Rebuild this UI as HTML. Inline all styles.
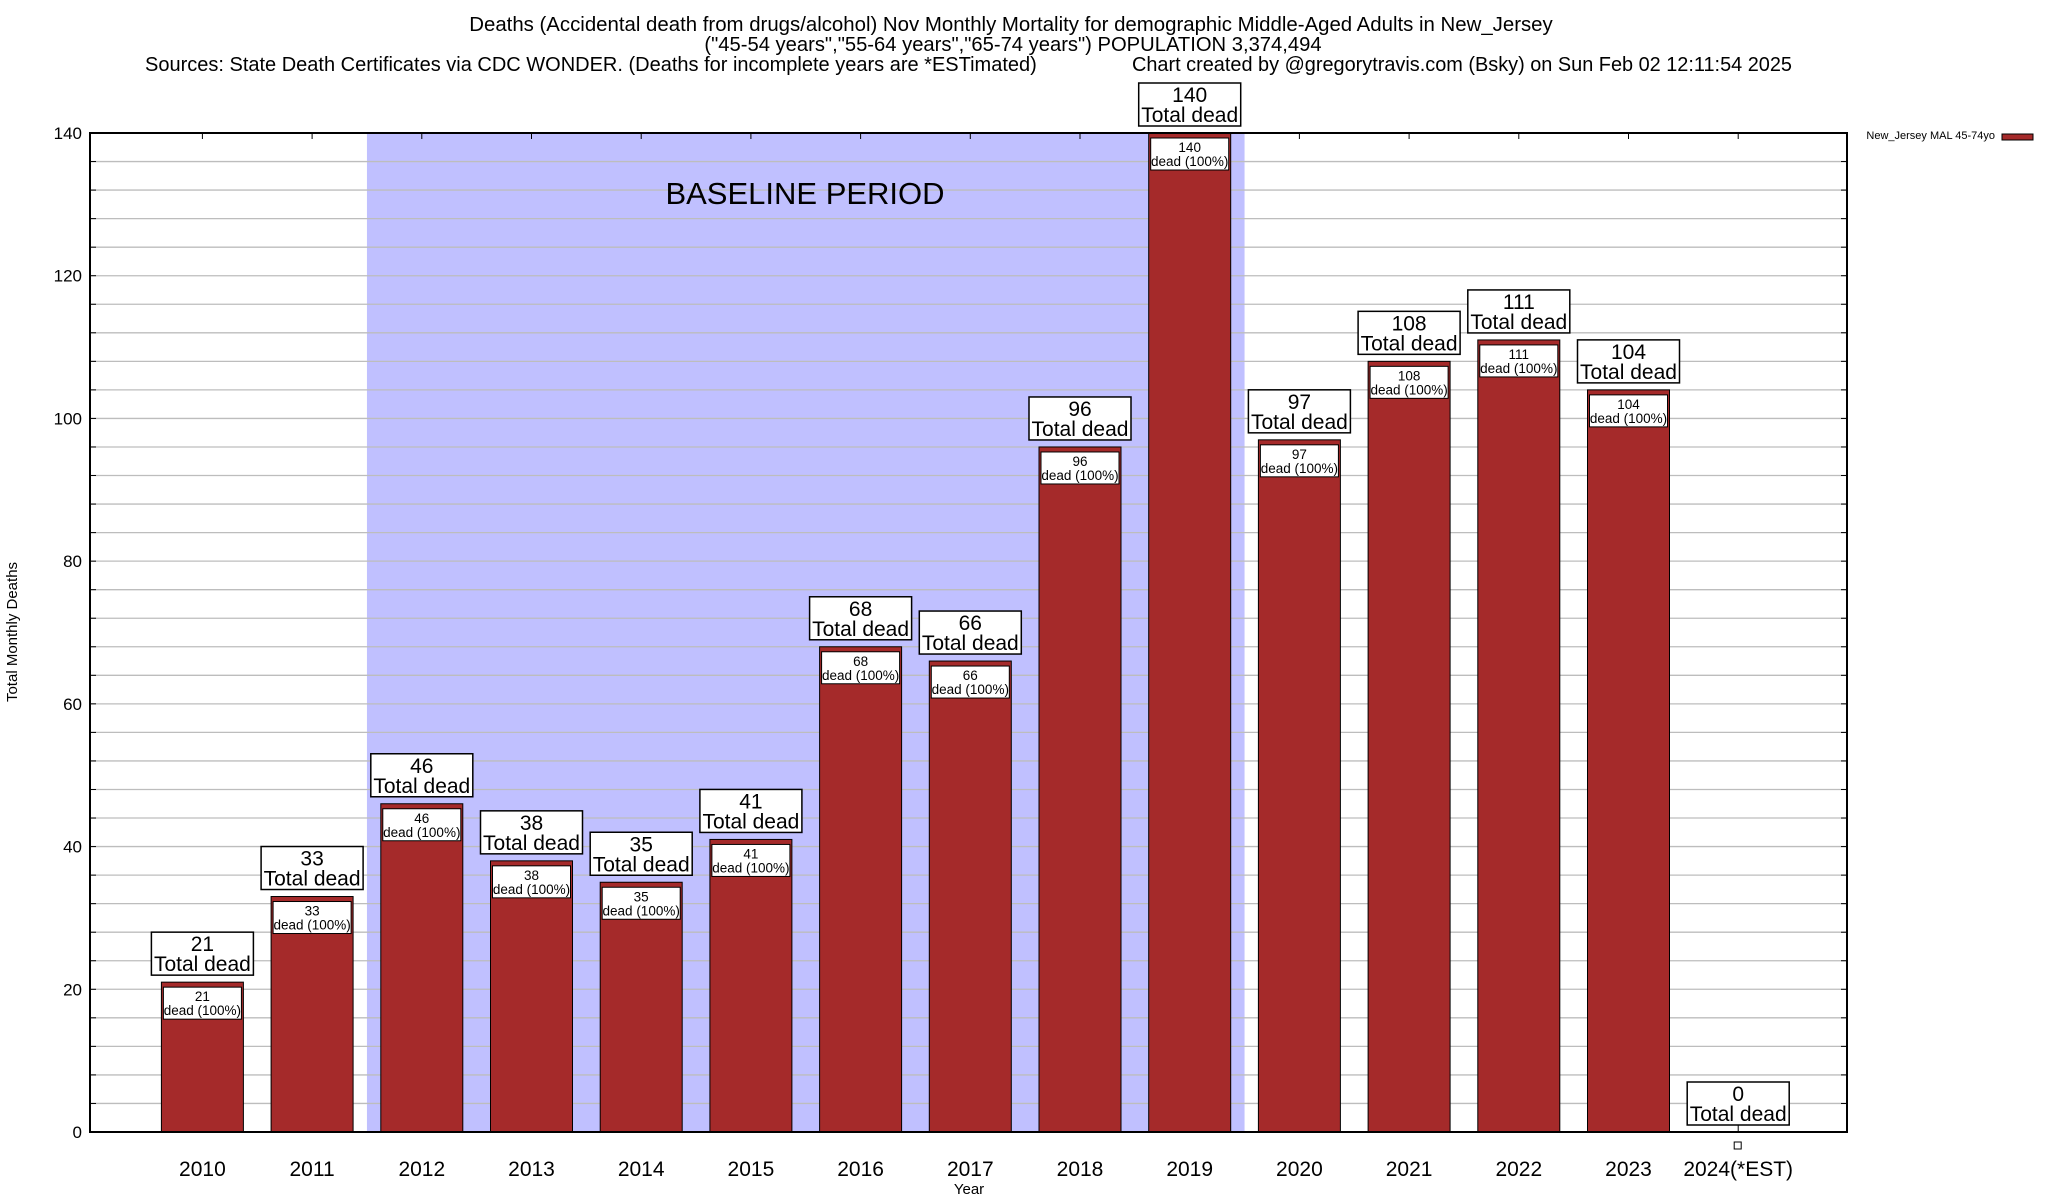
<!DOCTYPE html>
<html><head><meta charset="utf-8"><style>
html,body{margin:0;padding:0;background:#fff;}
svg{display:block;font-family:"Liberation Sans",sans-serif;}
</style></head><body>
<svg id="chart" width="2048" height="1200" viewBox="0 0 2048 1200">
<text x="1011" y="31" font-size="20.4" text-anchor="middle">Deaths (Accidental death from drugs/alcohol) Nov Monthly Mortality for demographic Middle-Aged Adults in New_Jersey</text>
<text x="1013" y="51" font-size="20.2" text-anchor="middle">("45-54 years","55-64 years","65-74 years") POPULATION 3,374,494</text>
<text x="145" y="71" font-size="20">Sources: State Death Certificates via CDC WONDER. (Deaths for incomplete years are *ESTimated)</text>
<text x="1132" y="71" font-size="19.9">Chart created by @gregorytravis.com (Bsky) on Sun Feb 02 12:11:54 2025</text>
<g id="plot"></g>
<text x="17" y="632" font-size="15" text-anchor="middle" transform="rotate(-90 17 632)">Total Monthly Deaths</text>
<text x="969" y="1194" font-size="15" text-anchor="middle">Year</text>
<text x="1995" y="139" font-size="11" text-anchor="end">New_Jersey MAL 45-74yo</text>
<rect x="2002" y="134" width="31" height="6" fill="#a52a2a" stroke="#000"/>
</svg>
<script>
const categories = ["2010","2011","2012","2013","2014","2015","2016","2017","2018","2019","2020","2021","2022","2023","2024(*EST)"];
const values = [21,33,46,38,35,41,68,66,96,140,97,108,111,104,0];
const yTicks = [0,20,40,60,80,100,120,140];
const baselineStart = 2; // index of first baseline category
const baselineEnd = 9;   // index of last baseline category

const NS = "http://www.w3.org/2000/svg";
const L = 90, R = 1847, T = 133, B = 1132;
const yMax = 140;
const step = 109.7, x0 = 202.4, bw = 82;
const xS = i => x0 + step * i;
const yS = v => B - (B - T) * v / yMax;
const g = document.getElementById('plot');
function mk(tag, attrs, txt) {
  const e = document.createElementNS(NS, tag);
  for (const k in attrs) e.setAttribute(k, attrs[k]);
  if (txt !== undefined) e.textContent = txt;
  g.appendChild(e);
  return e;
}
let e = mk('rect', {x: xS(baselineStart - 0.5), y: T, width: xS(baselineEnd + 0.5) - xS(baselineStart - 0.5), height: B - T, fill: '#c0c0ff'});


for (let v = 4; v < yMax; v += 4) {
  e = mk('line', {x1: L, x2: R, y1: yS(v), y2: yS(v), stroke: '#bdbdbd', 'stroke-width': 1.3});
  
  
  mk('line', {x1: L, x2: L + 6, y1: yS(v), y2: yS(v), stroke: '#000'});
  mk('line', {x1: R - 6, x2: R, y1: yS(v), y2: yS(v), stroke: '#000'});
}
e = mk('text', {x: 805, y: 204, 'font-size': 31, 'text-anchor': 'middle'}, 'BASELINE PERIOD');


yTicks.forEach(v => {
  e = mk('text', {x: L - 8, y: yS(v) + 6, 'font-size': 17, 'text-anchor': 'end'}, String(v));
  
  
});
categories.forEach((c, i) => {
  const cx = xS(i), v = values[i];
  mk('line', {x1: cx, x2: cx, y1: T, y2: T + 6, stroke: '#000'});
  e = mk('text', {x: cx, y: 1176, 'font-size': 21, 'text-anchor': 'middle'}, c);
  
  
  const top = yS(v);
  if (v > 0) {
    e = mk('rect', {x: cx - bw / 2, y: top, width: bw, height: B - top, fill: '#a52a2a', stroke: '#000', 'stroke-width': 1});
    
    
    e = mk('rect', {x: cx - bw / 2 + 2, y: top + 5, width: bw - 4, height: 32, fill: '#fff', stroke: '#000', 'stroke-width': 1});
    
    
    mk('text', {x: cx, y: top + 19, 'font-size': 13.5, 'text-anchor': 'middle'}, String(v));
    mk('text', {x: cx, y: top + 33, 'font-size': 13.5, 'text-anchor': 'middle'}, 'dead (100%)');
  } else {
    mk('rect', {x: cx - 4, y: B + 10, width: 7, height: 7, fill: '#fff', stroke: '#000'});
  }
  const by = top - 7 - 43;
  e = mk('rect', {x: cx - 51, y: by, width: 102, height: 43, fill: '#fff', stroke: '#000', 'stroke-width': 1.5});
  
  
  if (v === 0) mk('line', {x1: cx, x2: cx, y1: by + 43, y2: B, stroke: '#000'});
  mk('text', {x: cx, y: by + 19, 'font-size': 21, 'text-anchor': 'middle'}, String(v));
  mk('text', {x: cx, y: by + 39, 'font-size': 21, 'text-anchor': 'middle'}, 'Total dead');
});
e = mk('rect', {x: L, y: T, width: R - L, height: B - T, fill: 'none', stroke: '#000', 'stroke-width': 2});


</script>
</body></html>
